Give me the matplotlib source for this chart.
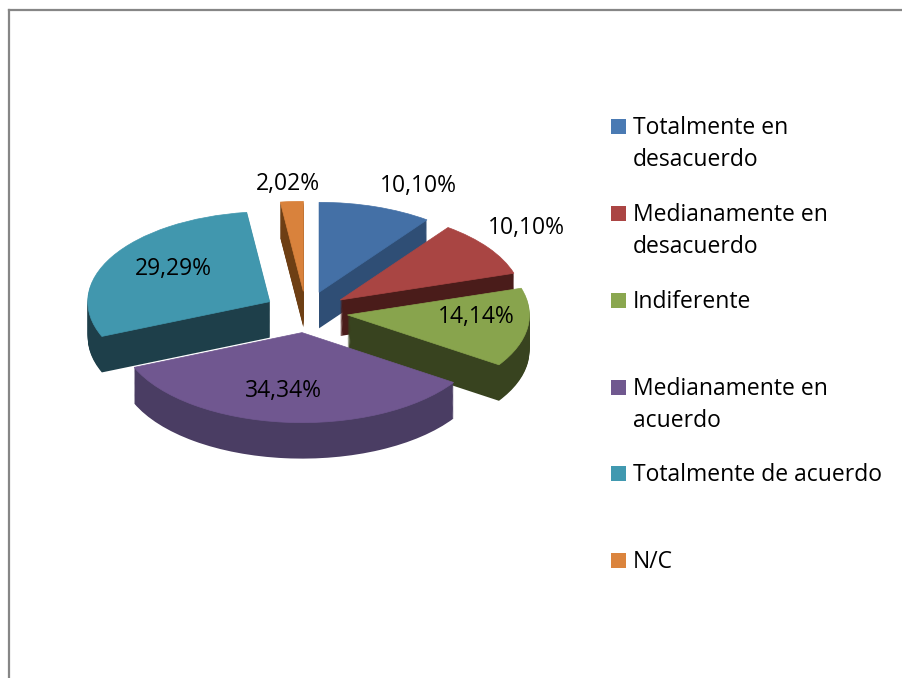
import numpy as np
import matplotlib
matplotlib.use("Agg")
import matplotlib.pyplot as plt
from matplotlib.patches import Rectangle
from matplotlib.lines import Line2D

# data
categories = ["Totalmente en\ndesacuerdo", "Medianamente en\ndesacuerdo", "Indiferente",
              "Medianamente en\nacuerdo", "Totalmente de acuerdo", "N/C"]
values = [10.10, 10.10, 14.14, 34.34, 29.29, 2.02]
pct_labels = ["10,10%", "10,10%", "14,14%", "34,34%", "29,29%", "2,02%"]

# styling
top_colors = ["#4470a6", "#a94543", "#88a44d", "#705790", "#4197ae", "#d9823c"]
side_colors = ["#2f4e75", "#4a1c1a", "#38431f", "#4a3d63", "#1e3f4a", "#6e3f14"]
key_colors = ["#4a7ab3", "#ab4544", "#8aa74f", "#70588f", "#4199b0", "#db843d"]

W, H = 903, 678
cx, cy = 306, 312        # pie centre in pixels
rx, ry = 182, 90         # pixels per data unit
depth = 0.40             # thickness of pie in data units (y)
explode = [0.23] * len(values)

plt.rcParams['font.family'] = ['Open Sans', 'DejaVu Sans']

fig = plt.figure(figsize=(W / 100, H / 100), dpi=100)
ax = fig.add_axes([0, 0, 1, 1])

# back-to-front drawing order from mid angle of each slice
fr = np.array(values) / sum(values)
mids = (np.cumsum(fr) - fr / 2) * 2 * np.pi      # clockwise from top
front = -np.cos(mids)
rank = np.argsort(np.argsort(front))

n_layers = 40
for k, z in enumerate(np.linspace(-depth, 0, n_layers)):
    is_top = (k == n_layers - 1)
    cols = top_colors if is_top else side_colors
    wedges, _ = ax.pie(values, explode=explode, colors=cols, startangle=90,
                       counterclock=False, center=(0, z),
                       wedgeprops=dict(linewidth=0, antialiased=True))
    for i, w in enumerate(wedges):
        w.set_zorder(2 + rank[i] * 2 + (1 if is_top else 0))
        if is_top:
            w.set_edgecolor(top_colors[i])
            w.set_linewidth(0.5)

ax.set_aspect('auto')
ax.set_xlim((0 - cx) / rx, (W - cx) / rx)
ax.set_ylim((cy - H) / ry, cy / ry)
ax.axis('off')

# percentage labels (pixel positions: centre x, baseline y)
label_pos = [(418, 192), (526, 234), (476, 323), (283, 397), (173, 275), (288, 190)]
for txt, (px, py) in zip(pct_labels, label_pos):
    fig.text(px / W, 1 - py / H, txt, ha='center', va='baseline',
             fontsize=16.5, color='black', zorder=30)

# legend drawn by hand: square aligned with first text line
legend_base = [134, 221, 308, 395, 481, 568]
for lab, col, by in zip(categories, key_colors, legend_base):
    fig.add_artist(Rectangle((611 / W, 1 - by / H), 15 / W, 15 / H,
                             transform=fig.transFigure, facecolor=col,
                             edgecolor='none'))
    for j, line in enumerate(lab.split("\n")):
        fig.text(633 / W, 1 - (by + j * 32) / H, line, ha='left',
                 va='baseline', fontsize=16.5, color='black')

# chart border (only top and left visible)
fig.add_artist(Line2D([9.5 / W, 9.5 / W], [0, 1 - 9.5 / H], transform=fig.transFigure,
                      color='#868686', lw=1.6))
fig.add_artist(Line2D([9.5 / W, 1], [1 - 9.5 / H, 1 - 9.5 / H], transform=fig.transFigure,
                      color='#868686', lw=1.6))

fig.savefig("out.png", dpi=100, facecolor='white')
